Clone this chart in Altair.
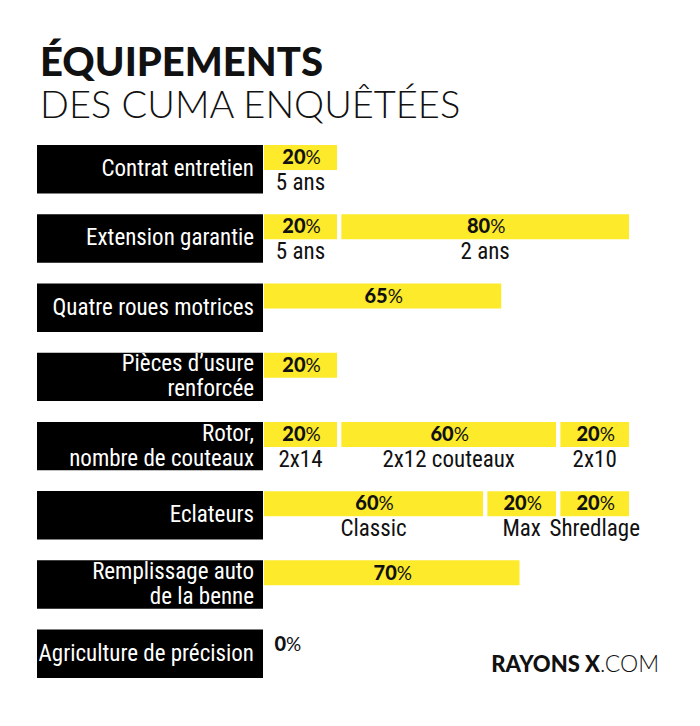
import altair as alt
import pandas as pd

# ---- data ----
rows = ["Contrat entretien", "Extension garantie", "Quatre roues motrices",
        "Pièces d’usure\nrenforcée", "Rotor,\nnombre de couteaux", "Eclateurs",
        "Remplissage auto\nde la benne", "Agriculture de précision"]
seg_row = [0, 1, 1, 2, 3, 4, 4, 4, 5, 5, 5, 6, 7]
seg_value = [20, 20, 80, 65, 20, 20, 60, 20, 60, 20, 20, 70, 0]
seg_sub = ["5 ans", "5 ans", "2 ans", "", "", "2x14", "2x12 couteaux", "2x10",
           "Classic", "Max", "Shredlage", "", ""]

title_main = "ÉQUIPEMENTS"
title_sub = "DES CUMA ENQUÊTÉES"
logo_bold = "RAYONS X"
logo_light = ".COM"

YELLOW = "#fdea2b"
COND = "Liberation Sans Narrow, Arial Narrow, Roboto Condensed, Roboto, sans-serif"
GEO = "Lato, Montserrat, sans-serif"

# ---- tables ----
seg = pd.DataFrame({"ri": seg_row, "value": seg_value, "sub": seg_sub})
seg["row"] = [rows[i] for i in seg["ri"]]
seg["start"] = seg.groupby("ri")["value"].cumsum() - seg["value"]
seg["end"] = seg["start"] + seg["value"]
seg["x0"] = seg["start"] + (seg["start"] > 0) * 1.2
seg["mid"] = (seg["x0"] + seg["end"]) / 2
seg["num"] = seg["value"].astype(str)
seg["pct"] = "%"

rowdf = pd.DataFrame({"row": rows})
rowdf["two"] = rowdf["row"].str.contains("\n")

xs = alt.Scale(domain=[0, 100], range=[256, 621])
ys = alt.Scale(domain=rows, range=[15, 548], paddingInner=0.3, paddingOuter=0)
Y = alt.Y("row:N", scale=ys, axis=None, sort=rows)

black = alt.Chart(rowdf).mark_bar(color="black").encode(
    y=Y, x=alt.value(29), x2=alt.value(255))

rowtext1 = alt.Chart(rowdf).transform_filter("!datum.two").mark_text(
    align="right", baseline="middle", color="white", font=COND,
    fontSize=23).encode(y=Y, x=alt.value(246), text="row:N")

rowtext2 = alt.Chart(rowdf).transform_filter("datum.two").transform_calculate(
    lines="split(datum.row, '\\n')"
).mark_text(align="right", baseline="middle", color="white", font=COND,
            fontSize=23, lineHeight=25, yOffset=-12.5).encode(
    y=Y, x=alt.value(246), text="lines:N")

bars = alt.Chart(seg).transform_filter("datum.value > 0").mark_bar(
    color=YELLOW, height=25, yOffset=-11.7).encode(
    y=Y, x=alt.X("x0:Q", scale=xs, axis=None), x2="end:Q")

num = alt.Chart(seg).transform_filter("datum.value > 0").mark_text(
    align="right", baseline="middle", font=GEO, fontWeight=900, fontSize=20,
    dx=5, yOffset=-11, color="#111").encode(
    y=Y, x=alt.X("mid:Q", scale=xs), text="num:N")

pct = alt.Chart(seg).transform_filter("datum.value > 0").mark_text(
    align="left", baseline="middle", font=GEO, fontWeight=400, fontSize=19,
    dx=5, yOffset=-11, color="#111").encode(
    y=Y, x=alt.X("mid:Q", scale=xs), text="pct:N")

num0 = alt.Chart(seg).transform_filter("datum.value == 0").mark_text(
    align="right", baseline="middle", font=GEO, fontWeight=900, fontSize=20,
    dx=22, yOffset=-9, color="#111").encode(
    y=Y, x=alt.X("start:Q", scale=xs), text="num:N")

pct0 = alt.Chart(seg).transform_filter("datum.value == 0").mark_text(
    align="left", baseline="middle", font=GEO, fontWeight=400, fontSize=19,
    dx=22, yOffset=-9, color="#111").encode(
    y=Y, x=alt.X("start:Q", scale=xs), text="pct:N")

sub = alt.Chart(seg).transform_filter("datum.sub != ''").mark_text(
    align="center", baseline="middle", font=COND, fontSize=23, yOffset=14,
    color="#111").encode(
    y=Y, x=alt.X("mid:Q", scale=xs), text="sub:N")

logo = pd.DataFrame({"b": [logo_bold], "l": [logo_light]})
logo_b = alt.Chart(logo).mark_text(
    align="right", baseline="alphabetic", font=GEO, fontWeight=900, fontSize=22,
    color="#111").encode(x=alt.value(592), y=alt.value(542), text="b:N")
logo_l = alt.Chart(logo).mark_text(
    align="left", baseline="alphabetic", font=GEO, fontWeight=300, fontSize=23,
    color="#111").encode(x=alt.value(592), y=alt.value(542), text="l:N")

chart = alt.layer(black, rowtext1, rowtext2, bars, num, pct, num0, pct0, sub,
                  logo_b, logo_l).properties(
    width=684, height=588,
    autosize=alt.AutoSizeParams(type="none"),
    padding={"left": 0, "top": 122, "right": 0, "bottom": 0},
    title=alt.TitleParams(
        text=title_main, subtitle=title_sub, anchor="start", frame="group",
        dx=32, offset=4, font=GEO, fontSize=40, fontWeight=900, color="#111",
        subtitleFont=GEO, subtitleFontSize=38, subtitleFontWeight=300,
        subtitleColor="#111", subtitlePadding=4),
).configure(background="white").configure_view(stroke=None)

chart.save("out.html", embed_options={"renderer": "svg", "actions": False})
